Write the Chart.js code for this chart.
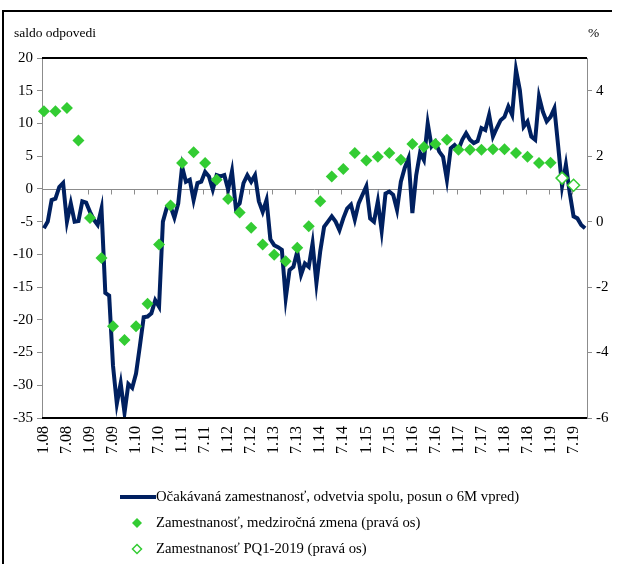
<!DOCTYPE html>
<html lang="sk">
<head>
<meta charset="UTF-8">
<title>Očakávaná zamestnanosť</title>
<script src="https://cdn.jsdelivr.net/npm/chart.js"></script>
<style>
  html, body { margin: 0; padding: 0; background: #fff; }
  #box { position: relative; width: 618px; height: 564px; }
</style>
</head>
<body>
<div id="box"><canvas id="chart" width="618" height="564"></canvas></div>
<script>
// months 1.08 .. 10.19 (line shifted 6M ahead)
const months = [];
for (let yr = 8; yr <= 19; yr++) {
  for (let m = 1; m <= 12; m++) {
    if (yr === 19 && m > 10) break;
    months.push(m + '.' + String(yr).padStart(2, '0'));
  }
}

const tickLabels = ['1.08', '7.08', '1.09', '7.09', '1.10', '7.10', '1.11', '7.11', '1.12', '7.12',
  '1.13', '7.13', '1.14', '7.14', '1.15', '7.15', '1.16', '7.16', '1.17', '7.17', '1.18', '7.18', '1.19', '7.19'];

// Očakávaná zamestnanosť (saldo odpovedí), monthly
const expected = [
  -6.0, -5.0, -1.7, -1.5, 0.3, 0.9, -5.0, -2.2, -5.0, -4.9, -1.9, -2.1,
  -3.5, -4.7, -5.5, -3.0, -15.9, -16.3, -27.0, -32.8, -29.7, -34.2, -29.8, -30.4,
  -28.2, -24.0, -19.6, -19.5, -19.0, -17.0, -18.0, -5.0, -2.9, -2.7, -4.4, -2.2,
  3.4, 1.1, 1.4, -1.7, 0.9, 1.1, 2.6, 1.9, -0.1, 2.1, 1.9, 2.1,
  -0.1, 2.7, -2.9, -2.2, 0.9, 2.1, 1.1, 2.1, -1.9, -3.5, -1.7, -7.7,
  -8.6, -8.9, -9.3, -16.7, -12.4, -11.9, -9.6, -13.1, -11.4, -11.9, -8.3, -14.4,
  -9.5, -5.8, -5.0, -4.2, -5.0, -6.3, -4.5, -3.0, -2.4, -4.7, -2.2, -0.9,
  0.4, -4.5, -5.0, -1.9, -6.4, -0.7, -0.4, -0.9, -3.2, 1.1, 3.2, 4.7,
  -3.7, 2.1, 5.5, 4.4, 10.0, 6.5, 7.2, 5.7, 4.9, 1.4, 6.2, 6.7,
  6.0, 7.5, 8.5, 7.5, 7.0, 7.3, 9.3, 9.0, 11.3, 8.0, 9.3, 10.5,
  11.0, 12.6, 11.3, 18.2, 15.1, 9.5, 10.3, 8.0, 7.5, 14.1, 11.8, 10.3,
  11.0, 12.3, 6.5, 0.4, 3.7, -0.6, -4.2, -4.5, -5.5, -6.0
];

// Zamestnanosť, medziročná zmena (%), quarterly from Q1 2008
const employment = [
  3.37, 3.37, 3.47, 2.48, 0.11, -1.11, -3.20, -3.62, -3.20, -2.51, -0.70, 0.49,
  1.79, 2.12, 1.79, 1.28, 0.69, 0.28, -0.19, -0.70, -1.01, -1.21, -0.80, -0.14,
  0.62, 1.38, 1.61, 2.10, 1.87, 1.98, 2.10, 1.89, 2.37, 2.28, 2.37, 2.50,
  2.20, 2.20, 2.20, 2.21, 2.21, 2.10, 1.98, 1.79, 1.80
];

// Zamestnanosť PQ1-2019, Q2 and Q3 2019
const forecast = [1.33, 1.11];

const navy = '#002060';
const green = '#33cc33';
const serif = "'Liberation Serif', 'Times New Roman', serif";

// quarterly values placed on the first month of each quarter
const empSeries = months.map(() => null);
employment.forEach((v, k) => { empSeries[k * 3] = v; });
const fcSeries = months.map(() => null);
forecast.forEach((v, k) => { fcSeries[(employment.length + k) * 3] = v; });

const decorPlugin = {
  id: 'decor',
  beforeDatasetsDraw(chart) {
    const { ctx, chartArea: a, scales } = chart;
    const y0 = Math.round(scales.y.getPixelForValue(0)) + 0.5;
    const step = (a.right - a.left) / months.length;
    ctx.save();
    ctx.strokeStyle = '#8c8c8c';
    ctx.lineWidth = 1;
    ctx.beginPath();
    ctx.moveTo(a.left, y0);
    ctx.lineTo(a.right, y0);
    for (let i = 6; i < months.length; i += 6) {
      const px = Math.round(a.left + i * step) + 0.5;
      ctx.moveTo(px, y0);
      ctx.lineTo(px, y0 + 5);
    }
    ctx.stroke();
    ctx.restore();
  },
  afterDraw(chart) {
    const { ctx, chartArea: a } = chart;
    ctx.save();
    // plot area top and bottom edges
    ctx.strokeStyle = '#000';
    ctx.lineWidth = 2;
    ctx.beginPath();
    ctx.moveTo(a.left, a.top);
    ctx.lineTo(a.right, a.top);
    ctx.moveTo(a.left, a.bottom);
    ctx.lineTo(a.right, a.bottom);
    ctx.stroke();

    // outer frame
    ctx.lineWidth = 2;
    ctx.beginPath();
    ctx.moveTo(3, 564);
    ctx.lineTo(3, 11);
    ctx.lineTo(612, 11);
    ctx.stroke();

    // axis titles
    ctx.fillStyle = '#000';
    ctx.font = '13.5px ' + serif;
    ctx.textBaseline = 'middle';
    ctx.textAlign = 'left';
    ctx.fillText('saldo odpovedi', 14, 33);
    ctx.fillText('%', 588, 33);

    // legend
    ctx.font = '14.7px ' + serif;
    ctx.strokeStyle = navy;
    ctx.lineWidth = 4;
    ctx.beginPath();
    ctx.moveTo(120, 497);
    ctx.lineTo(156, 497);
    ctx.stroke();
    ctx.fillText('Očakávaná zamestnanosť, odvetvia spolu, posun o 6M vpred)', 156, 497);

    const diamond = (cx, cy, r) => {
      ctx.beginPath();
      ctx.moveTo(cx, cy - r);
      ctx.lineTo(cx + r, cy);
      ctx.lineTo(cx, cy + r);
      ctx.lineTo(cx - r, cy);
      ctx.closePath();
    };
    ctx.fillStyle = green;
    diamond(137, 523, 5);
    ctx.fill();
    ctx.fillStyle = '#000';
    ctx.fillText('Zamestnanosť, medziročná zmena (pravá os)', 156, 523);

    ctx.strokeStyle = green;
    ctx.lineWidth = 1.5;
    diamond(137, 549, 4.5);
    ctx.stroke();
    ctx.fillText('Zamestnanosť PQ1-2019 (pravá os)', 156, 549);
    ctx.restore();
  }
};

new Chart(document.getElementById('chart'), {
  type: 'line',
  data: {
    labels: months,
    datasets: [
      {
        label: 'Očakávaná zamestnanosť, odvetvia spolu, posun o 6M vpred)',
        data: expected,
        yAxisID: 'y',
        borderColor: navy,
        borderWidth: 4,
        pointRadius: 0,
        tension: 0,
        order: 2
      },
      {
        label: 'Zamestnanosť, medziročná zmena (pravá os)',
        data: empSeries,
        yAxisID: 'y2',
        showLine: false,
        pointStyle: 'rectRot',
        pointRadius: 6,
        pointBackgroundColor: green,
        pointBorderColor: green,
        pointBorderWidth: 0,
        order: 1
      },
      {
        label: 'Zamestnanosť PQ1-2019 (pravá os)',
        data: fcSeries,
        yAxisID: 'y2',
        showLine: false,
        pointStyle: 'rectRot',
        pointRadius: 6,
        pointBackgroundColor: '#fff',
        pointBorderColor: green,
        pointBorderWidth: 1.5,
        order: 0
      }
    ]
  },
  options: {
    responsive: false,
    animation: false,
    layout: { padding: { top: 58, left: 0, right: 0, bottom: 0 } },
    plugins: { legend: { display: false }, tooltip: { enabled: false } },
    scales: {
      x: {
        type: 'category',
        offset: true,
        grid: { display: false, drawTicks: false },
        border: { display: false },
        ticks: {
          autoSkip: false,
          minRotation: 90,
          maxRotation: 90,
          padding: 8,
          color: '#000',
          font: { family: serif, size: 16 },
          callback: function (val, index) {
            const lab = months[index];
            return tickLabels.includes(lab) ? lab : '';
          }
        },
        afterFit: (scale) => { scale.height = 146; }
      },
      y: {
        position: 'left',
        min: -35,
        max: 20,
        grid: { drawOnChartArea: false, color: '#8c8c8c', tickLength: 5 },
        border: { color: '#8c8c8c' },
        ticks: { stepSize: 5, padding: 4, color: '#000', font: { family: serif, size: 15 } },
        afterFit: (scale) => { scale.width = 42; }
      },
      y2: {
        position: 'right',
        min: -6,
        max: 5,
        grid: { drawOnChartArea: false, color: '#8c8c8c', tickLength: 5 },
        border: { color: '#8c8c8c' },
        ticks: { padding: 4, color: '#000', font: { family: serif, size: 15 } },
        afterBuildTicks: (scale) => {
          scale.ticks = [-6, -4, -2, 0, 2, 4].map(v => ({ value: v }));
        },
        afterFit: (scale) => { scale.width = 31; }
      }
    }
  },
  plugins: [decorPlugin]
});
</script>
</body>
</html>
